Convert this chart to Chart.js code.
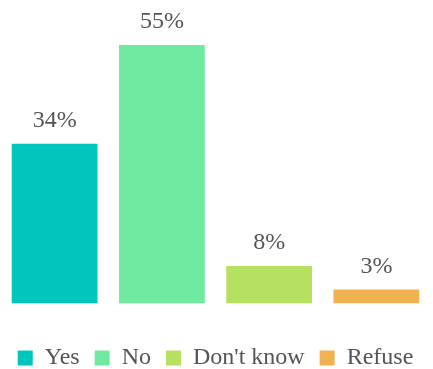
<!DOCTYPE html>
<html>
  <head>
    <title>Survey</title>
    <style>
      html, body { margin: 0; padding: 0; background: #fff; }
      #wrap { width: 433px; height: 369px; }
    </style>
  </head>
  <body>
    <div id="wrap">
      <canvas id="canvas"></canvas>
    </div>
    <script src="https://cdn.jsdelivr.net/npm/chart.js@4"></script>
    <script>
      const answers = ["Yes", "No", "Don't know", "Refuse"];
      const shares = [34, 55, 8, 3];
      const colors = ["#00c6bd", "#70eaa0", "#b6e060", "#f0b251"];

      const serif = "'Palatino Linotype', 'Book Antiqua', Palatino, 'Liberation Serif', serif";
      const textColor = "#555555";

      // percent label above each bar
      const valueLabels = {
        id: "valueLabels",
        afterDatasetsDraw(chart) {
          const ctx = chart.ctx;
          const meta = chart.getDatasetMeta(0);
          ctx.save();
          ctx.font = "24px " + serif;
          ctx.fillStyle = textColor;
          ctx.textAlign = "center";
          ctx.textBaseline = "alphabetic";
          meta.data.forEach((bar, i) => {
            ctx.fillText(shares[i] + "%", bar.x, bar.y - 17);
          });
          ctx.restore();
        }
      };

      new Chart(document.getElementById("canvas").getContext("2d"), {
        type: "bar",
        data: {
          labels: answers,
          datasets: [
            {
              data: shares,
              backgroundColor: colors,
              barPercentage: 0.8,
              categoryPercentage: 1
            }
          ]
        },
        options: {
          responsive: true,
          maintainAspectRatio: false,
          animation: false,
          layout: { padding: { left: 1, right: 3, top: 0, bottom: -11 } },
          plugins: {
            tooltip: { enabled: false },
            legend: {
              position: "bottom",
              title: {
                display: true,
                text: "",
                font: { size: 12 },
                padding: { top: 13, bottom: 0 }
              },
              labels: {
                font: { family: serif, size: 24 },
                color: textColor,
                boxWidth: 15,
                boxHeight: 15,
                padding: 15,
                generateLabels: (chart) =>
                  answers.map((a, i) => ({
                    text: a,
                    fillStyle: colors[i],
                    strokeStyle: colors[i],
                    lineWidth: 0,
                    fontColor: textColor,
                    index: i
                  }))
              }
            }
          },
          scales: {
            x: { display: false },
            y: { display: false, min: 0, max: 64.6 }
          }
        },
        plugins: [valueLabels]
      });
    </script>
  </body>
</html>
